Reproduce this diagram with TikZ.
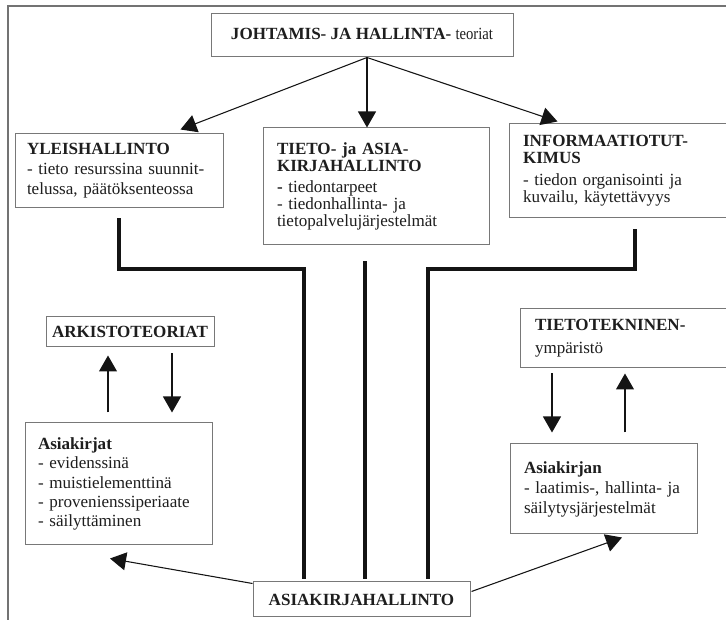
\documentclass[tikz,border=0pt]{standalone}
\usepackage{fontspec}
\setmainfont{Liberation Serif}
\usetikzlibrary{arrows.meta,calc}
\definecolor{framec}{RGB}{115,115,115}
\definecolor{boxc}{RGB}{120,120,120}
\definecolor{textc}{RGB}{30,30,30}
\definecolor{linec}{RGB}{20,20,20}
\begin{document}
\begin{tikzpicture}[x=0.75pt,y=-0.75pt,
  box/.style={draw=boxc, line width=0.75pt, fill=white, inner ysep=0pt,
    text=textc, font=\fontsize{12.8}{15}\selectfont},
  lbox/.style={box, align=left},
  cbox/.style={box, align=center, inner xsep=0pt},
  arr/.style={draw=linec, line width=0.8pt, -{Triangle[length=12pt,width=13.5pt]}},
  trunk/.style={draw=linec, line width=2.3pt, line cap=butt, line join=miter},
  framel/.style={draw=framec, line width=1.4pt}
]
\useasboundingbox (0,0) rectangle (726,620);
\clip (0,0) rectangle (726,620);

% outer frame (top and left edge)
\draw[framel] (8,625) -- (8,6) -- (730,6);

% boxes
\node[cbox, minimum width=226.5pt, minimum height=32.25pt] (top) at (362,35.5)
  {\raisebox{2pt}{\textbf{JOHTAMIS- JA HALLINTA-} {\addfontfeature{FakeStretch=0.86}teoriat}}};

\node[lbox, text width=138pt, inner xsep=9pt, minimum height=55.5pt] (yleis) at (119,171)
  {\textbf{YLEISHALLINTO}\\- tieto resurssina suunnit-\\telussa, päätöksenteossa};

\node[lbox, text width=148.5pt, inner xsep=10.5pt, minimum height=87.75pt,
  font=\fontsize{12.8}{12.75}\selectfont] (tieto) at (376,186.5)
  {\textbf{TIETO- ja ASIA-}\\\textbf{KIRJAHALLINTO}\\[3pt]\textbf{-} tiedontarpeet\\- tiedonhallinta- ja\\tietopalvelujärjestelmät};

\node[lbox, text width=152.25pt, inner xsep=10.5pt, minimum height=70.5pt,
  font=\fontsize{12.8}{12.75}\selectfont] (info) at (624.5,171)
  {\textbf{INFORMAATIOTUT-}\\\textbf{KIMUS}\\[4pt]- tiedon organisointi ja\\kuvailu, käytettävyys};

\node[cbox, minimum width=126pt, minimum height=22.5pt] (ark) at (130,332)
  {\textbf{ARKISTOTEORIAT}};

\node[lbox, text width=120.75pt, inner xsep=9.75pt, minimum height=91.5pt,
  font=\fontsize{12.8}{14.5}\selectfont] (asiak) at (118.5,484)
  {\textbf{Asiakirjat}\\- evidenssinä\\- muistielementtinä\\- provenienssiperiaate\\- säilyttäminen};

\node[lbox, text width=142.5pt, inner xsep=11.25pt, minimum height=44.25pt,
  font=\fontsize{12.8}{17}\selectfont] (tek) at (630,338.5)
  {\textbf{TIETOTEKNINEN-}\\ympäristö};

\node[lbox, text width=119.25pt, inner xsep=10.5pt, minimum height=67.5pt,
  font=\fontsize{12.8}{15}\selectfont] (asiakn) at (603.5,489)
  {\textbf{Asiakirjan}\\- laatimis-, hallinta- ja\\säilytysjärjestelmät};

\node[cbox, minimum width=162.75pt, minimum height=26.25pt] (ah) at (361.5,599.5)
  {\textbf{ASIAKIRJAHALLINTO}};

% arrows from the theory box
\coordinate (ts) at ($(top.south)+(5,0)$);
\draw[arr] (ts) -- ($(yleis.north east)+(-43,-4)$);
\draw[arr] (ts) -- (ts |- tieto.north);
\draw[arr] (ts) -- ($(info.north west)+(49,-2)$);

% archival theories <-> records
\draw[arr] ($(asiak.north)+(-10.5,-10)$) -- ($(ark.south)+(-22,8)$);
\draw[arr] ($(ark.south)+(42,6)$) -- ($(asiak.north)+(53.5,-10)$);

% IT environment <-> record systems
\draw[arr] ($(tek.south)+(-78,5)$) -- ($(asiakn.north)+(-51.5,-11)$);
\draw[arr] ($(asiakn.north)+(21.5,-11)$) -- ($(tek.south)+(-5,5)$);

% records management to both sides
\draw[arr] ($(ah.north west)+(0,2)$) -- ($(asiak.south)+(-8.5,13)$);
\draw[arr] ($(ah.north east)+(1,10)$) -- ($(asiakn.south)+(18.5,3)$);

% heavy trunk lines into records management
\coordinate (l0) at ($(yleis.south)+(0,10)$);
\coordinate (l1) at ($(ah.north)+(-57.5,-2)$);
\coordinate (m0) at ($(tieto.south)+(-11,16)$);
\coordinate (m1) at ($(ah.north)+(3.5,-2)$);
\coordinate (r0) at ($(info.south)+(10.5,11)$);
\coordinate (r1) at ($(ah.north)+(66.5,-2)$);
\draw[trunk] (l0) -- (l0 |- 0,269) -- (l1 |- 0,269) -- (l1);
\draw[trunk] (m0) -- (m0 |- m1);
\draw[trunk] (r0) -- (r0 |- 0,269) -- (r1 |- 0,269) -- (r1);
\end{tikzpicture}
\end{document}
